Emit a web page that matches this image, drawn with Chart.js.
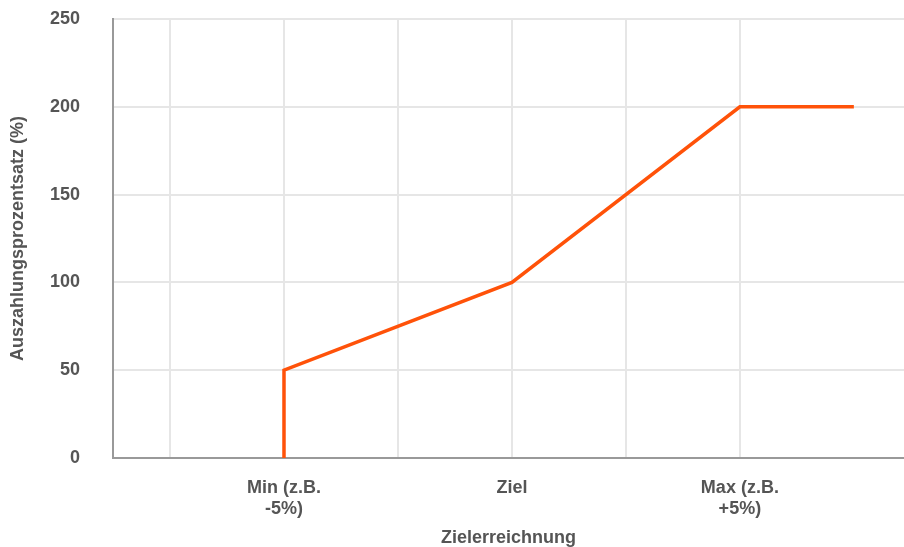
<!DOCTYPE html>
<html>
<head>
<meta charset="utf-8">
<script src="https://cdn.jsdelivr.net/npm/chart.js@4"></script>
<style>
  html, body { margin: 0; padding: 0; background: #fff; }
  #wrap { width: 904px; height: 547px; }
</style>
</head>
<body>
<div id="wrap"><canvas id="myChart"></canvas></div>
<script>
// Positionen auf der x-Achse (Gitterlinien bei ganzen Zahlen)
const xValues = [2, 2, 4, 6, 7];
const yValues = [0, 50, 100, 200, 200];
const xTickLabels = {
  2: ['Min (z.B.', '-5%)'],
  4: 'Ziel',
  6: ['Max (z.B.', '+5%)']
};
const yTicks = [0, 50, 100, 150, 200, 250];

const textColor = '#555555';
const font = { family: "'Liberation Sans', Arial, sans-serif", size: 18, weight: 'bold', lineHeight: 1.15 };

const ctx = document.getElementById('myChart');

new Chart(ctx, {
  type: 'line',
  data: {
    datasets: [{
      data: xValues.map((x, i) => ({ x: x, y: yValues[i] })),
      borderColor: '#FF5209',
      borderWidth: 3.5,
      pointRadius: 0,
      tension: 0,
      fill: false
    }]
  },
  options: {
    responsive: true,
    maintainAspectRatio: false,
    animation: false,
    layout: { padding: { top: 19, right: 0, left: 0, bottom: 0 } },
    plugins: {
      legend: { display: false },
      tooltip: { enabled: false }
    },
    scales: {
      x: {
        type: 'linear',
        min: 0.5,
        max: 7.44,
        afterBuildTicks: (axis) => {
          axis.ticks = axis.ticks.filter(t => Number.isInteger(t.value));
        },
        ticks: {
          stepSize: 1,
          autoSkip: false,
          maxRotation: 0,
          color: textColor,
          font: font,
          padding: 20,
          callback: (v) => xTickLabels[v] || ''
        },
        grid: { color: '#e6e6e6', lineWidth: 2, drawTicks: false },
        border: { color: '#999999', width: 2 },
        title: {
          display: true,
          text: 'Zielerreichnung',
          color: textColor,
          font: font,
          padding: { top: -12, bottom: -1 }
        }
      },
      y: {
        min: 0,
        max: 250,
        afterBuildTicks: (axis) => {
          axis.ticks = yTicks.map(v => ({ value: v }));
        },
        afterFit: (axis) => {
          axis.paddingTop = 0;
          axis.paddingBottom = 0;
        },
        ticks: {
          color: textColor,
          font: font,
          padding: 33
        },
        grid: { color: '#e6e6e6', lineWidth: 2, drawTicks: false },
        border: { color: '#999999', width: 2 },
        title: {
          display: true,
          text: 'Auszahlungsprozentsatz (%)',
          color: textColor,
          font: font,
          padding: { top: 7.6, bottom: -11.3 }
        }
      }
    }
  }
});
</script>
</body>
</html>
